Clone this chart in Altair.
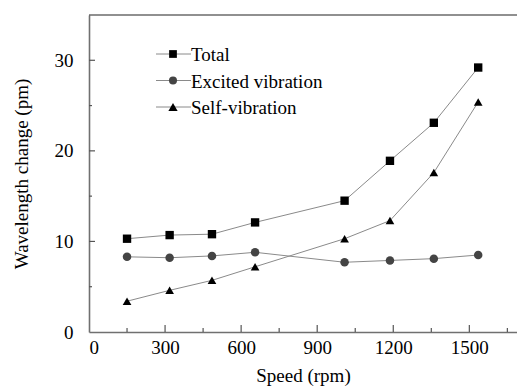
import altair as alt
import pandas as pd

# Measured wavelength change (pm) against rotating speed (rpm)
speed = [150, 318, 485, 655, 1008, 1187, 1360, 1535]
total = [10.3, 10.7, 10.8, 12.1, 14.5, 18.9, 23.1, 29.2]
excited = [8.3, 8.2, 8.4, 8.8, 7.7, 7.9, 8.1, 8.5]
self_vib = [3.4, 4.6, 5.7, 7.2, 10.3, 12.3, 17.6, 25.4]

series_names = ["Total", "Excited vibration", "Self-vibration"]
series_shapes = ["square", "circle", "triangle-up"]
series_fill = ["#000000", "#444444", "#000000"]
series_size = [70, 75, 95]

x_labels = [0, 300, 600, 900, 1200, 1500]
x_major = [300, 600, 900, 1200, 1500]
x_minor = [150, 450, 750, 1050, 1350, 1650]
y_labels = [0, 10, 20, 30]
y_major = [10, 20, 30]
y_minor = [5, 15, 25]

W, H = 428, 317
FONT = "Liberation Serif"
FS = 19
X_DOMAIN = [0, 1688]
Y_DOMAIN = [0, 35]

rows = []
for name, vals in zip(series_names, [total, excited, self_vib]):
    for s, v in zip(speed, vals):
        rows.append({"speed": s, "value": v, "series": name})
df = pd.DataFrame(rows)

xs = alt.Scale(domain=X_DOMAIN, nice=False, zero=False)
ys = alt.Scale(domain=Y_DOMAIN, nice=False, zero=False)

x_axis = alt.Axis(values=x_labels, format="d", title="Speed (rpm)", grid=False, tickSize=0,
                  labelPadding=6, titlePadding=9, domainColor="#707070", domainWidth=1.6)
y_axis = alt.Axis(values=y_labels, format="d", title="Wavelength change (pm)", grid=False, tickSize=0,
                  labelPadding=16, titlePadding=23, domainColor="#707070", domainWidth=1.6)

lines = alt.Chart(df).mark_line(color="#8a8a8a", strokeWidth=1).encode(
    x=alt.X("speed:Q", scale=xs, axis=x_axis),
    y=alt.Y("value:Q", scale=ys, axis=y_axis),
    detail="series:N",
)

points = alt.Chart(df).mark_point(filled=True, opacity=1).encode(
    x=alt.X("speed:Q", scale=xs, axis=x_axis),
    y=alt.Y("value:Q", scale=ys, axis=y_axis),
    shape=alt.Shape("series:N", scale=alt.Scale(domain=series_names, range=series_shapes), legend=None),
    color=alt.Color("series:N", scale=alt.Scale(domain=series_names, range=series_fill), legend=None),
    size=alt.Size("series:N", scale=alt.Scale(domain=series_names, range=series_size), legend=None),
)

# Inward tick marks along the bottom and left axes
def xticks(vals, length):
    return alt.Chart(pd.DataFrame({"speed": vals})).mark_rule(color="#555555", strokeWidth=1.2).encode(
        x=alt.X("speed:Q", scale=xs, axis=x_axis),
        y=alt.value(H), y2=alt.value(H - length),
    )

def yticks(vals, length):
    return alt.Chart(pd.DataFrame({"value": vals})).mark_rule(color="#555555", strokeWidth=1.2).encode(
        y=alt.Y("value:Q", scale=ys, axis=y_axis),
        x=alt.value(0), x2=alt.value(length),
    )

top_border = alt.Chart(pd.DataFrame({"t": [0]})).mark_rule(color="#222222", strokeWidth=1.2).encode(
    x=alt.value(0), x2=alt.value(W), y=alt.value(0),
)

# Legend drawn in the upper-left corner of the plot
legend_layers = []
for i, (name, shape, fill, sz) in enumerate(zip(series_names, series_shapes, series_fill, series_size)):
    ly = 39 + 26.5 * i
    ldf = pd.DataFrame({"label": [name]})
    legend_layers.append(
        alt.Chart(ldf).mark_rule(color="#8a8a8a", strokeWidth=1).encode(
            x=alt.value(67), x2=alt.value(102), y=alt.value(ly))
    )
    legend_layers.append(
        alt.Chart(ldf).mark_point(filled=True, size=sz - 10, opacity=1, shape=shape, color=fill).encode(
            x=alt.value(84), y=alt.value(ly))
    )
    legend_layers.append(
        alt.Chart(ldf).mark_text(align="left", baseline="middle", font=FONT, fontSize=FS,
                                 color="#000000").encode(
            x=alt.value(102), y=alt.value(ly + 1), text="label:N")
    )

chart = alt.layer(
    lines, points,
    xticks(x_major, 7), xticks(x_minor, 4),
    yticks(y_major, 6), yticks(y_minor, 3),
    top_border, *legend_layers,
).properties(
    width=W, height=H,
    padding={"left": 89, "top": 15, "right": 0, "bottom": 55},
    autosize=alt.AutoSizeParams(type="none"),
    background="white",
).configure_view(stroke=None).configure_axis(
    labelFont=FONT, titleFont=FONT, labelFontSize=FS, titleFontSize=FS,
    labelColor="#000000", titleColor="#000000", titleFontWeight="normal",
)

chart.save("out.html", embed_options={"renderer": "svg", "actions": False})
